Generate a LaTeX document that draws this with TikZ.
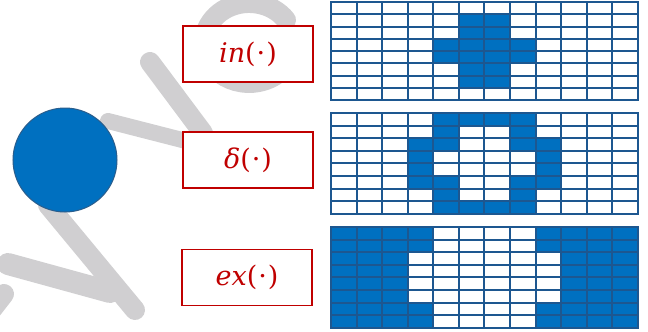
\documentclass[tikz,border=0pt]{standalone}
\usepackage{fontspec}
\newfontfamily\opfont{DejaVu Serif}
\usepackage{xcolor}
\definecolor{cellblue}{HTML}{0070C0}
\definecolor{gridline}{HTML}{1D5790}
\definecolor{boxred}{HTML}{C00000}
\definecolor{wmgray}{HTML}{D0CFD1}
\definecolor{circedge}{HTML}{2A5D8C}
\tikzset{
  gridcell/.style={draw=gridline, line width=2pt, fill=white},
  fullcell/.style={gridcell, fill=cellblue},
  opbox/.style={draw=boxred, line width=1.6pt, fill=white, text=boxred,
    minimum width=130pt, minimum height=56pt, inner sep=0pt, font=\opfont\fontsize{27}{32}\selectfont},
  wmark/.style={draw=wmgray, line width=20pt, line cap=round}
}
\newcommand\gridcells[3]{%
  \foreach \r in {0,...,7}{\foreach \c in {0,...,11}{%
    \draw[gridcell] ({331+\c*25.58},{#1+\r*#2}) rectangle ++(25.58,#2);}}
  \foreach \r/\c in {#3}{%
    \draw[fullcell] ({331+\c*25.58},{#1+\r*#2}) rectangle ++(25.58,#2);}
}
\begin{document}
\begin{tikzpicture}[x=1pt,y=-1pt]
\useasboundingbox (0,0) rectangle (648,332);
% watermark
\draw[wmark] (150,62) -- (203,133);
\draw[wmark, line width=16pt] (108,121) -- (190,142);
\draw[wmark] (48,205) -- (135,310);
\draw[wmark, line width=22pt] (8,264) -- (110,292);
\draw[wmark] (-10,312) -- (4,294);
\draw[wmark] (286,20) arc[start angle=-35, end angle=-320, x radius=45, y radius=40];
% circle
\node[circle, fill=cellblue, draw=circedge, line width=1pt, minimum size=104pt, inner sep=0pt] (ball) at (65,160) {};
% operator boxes
\node[opbox] (inbox) at (248,54) {\textit{in}(\kern1pt·\kern1pt)};
\node[opbox] (deltabox) at (248,160) {\textit{δ}(\kern1pt·\kern1pt)};
\node[opbox] (exbox) at (247,277.5) {\textit{ex}(\kern1pt·\kern1pt)};
% grids
\gridcells{2}{12.25}{1/5,1/6,2/5,2/6,3/4,3/5,3/6,3/7,4/4,4/5,4/6,4/7,5/5,5/6,6/5,6/6}
\gridcells{113}{12.6}{0/4,0/5,0/6,0/7,1/4,1/7,2/3,2/4,2/7,2/8,3/3,3/8,4/3,4/8,5/3,5/4,5/7,5/8,6/4,6/7,7/4,7/5,7/6,7/7}
\gridcells{227}{12.6}{0/0,0/1,0/2,0/3,0/8,0/9,0/10,0/11,1/0,1/1,1/2,1/3,1/8,1/9,1/10,1/11,2/0,2/1,2/2,2/9,2/10,2/11,3/0,3/1,3/2,3/9,3/10,3/11,4/0,4/1,4/2,4/9,4/10,4/11,5/0,5/1,5/2,5/9,5/10,5/11,6/0,6/1,6/2,6/3,6/8,6/9,6/10,6/11,7/0,7/1,7/2,7/3,7/8,7/9,7/10,7/11}
\end{tikzpicture}
\end{document}
